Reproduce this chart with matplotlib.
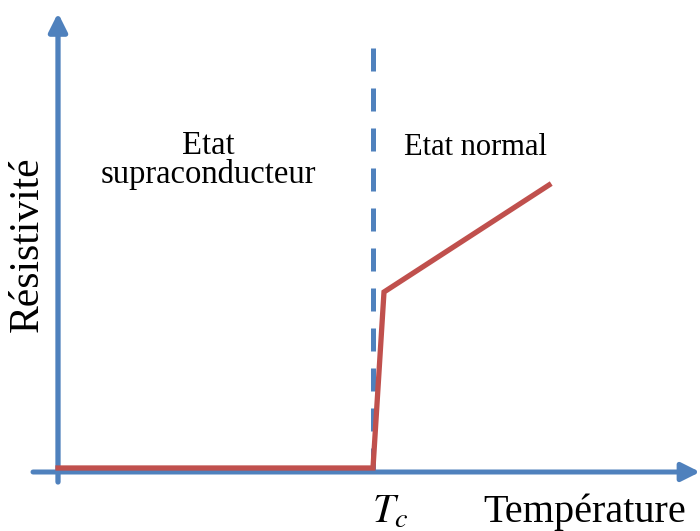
import matplotlib
matplotlib.use("Agg")
import matplotlib.pyplot as plt

# schematic data (arbitrary units, origin at axes crossing)
temp = [0, 315, 326, 491]
resist = [4, 4, 180, 287]
t_c = 315
dash_top = 424

BLUE = "#4f81bd"
RED = "#c0504d"

plt.rcParams["font.family"] = ["Liberation Serif", "DejaVu Serif"]

fig = plt.figure(figsize=(7.0, 5.31), dpi=100)
ax = fig.add_axes([0, 0, 1, 1])
ax.set_xlim(-58, 642)
ax.set_ylim(-59, 472)
ax.axis("off")

# axes with arrows
ax.annotate("", xy=(642, 0), xytext=(-25, 0), annotation_clip=False,
            arrowprops=dict(arrowstyle="-|>,head_length=1.1,head_width=0.55",
                            color=BLUE, lw=3.6, shrinkA=0, shrinkB=0))
ax.annotate("", xy=(0, 459), xytext=(0, -10), annotation_clip=False,
            arrowprops=dict(arrowstyle="-|>,head_length=1.1,head_width=0.55",
                            color=BLUE, lw=3.8, shrinkA=0, shrinkB=0))

# Tc dashed line
ax.plot([t_c, t_c], [dash_top, 0], color=BLUE, lw=3.6,
        dashes=(4.6, 3.4), solid_capstyle="butt", dash_capstyle="butt")

# resistivity curve
ax.plot(temp, resist, color=RED, lw=3.8, solid_joinstyle="miter", zorder=3)

ax.text(150, 289, "Etat\nsupraconducteur", ha="center", va="baseline",
        multialignment="center", linespacing=0.92, fontsize=23.5)
ax.text(417, 317, "Etat normal", ha="center", va="baseline", fontsize=22)
ax.text(-30, 228, "Résistivité", rotation=90, ha="center", va="center",
        fontsize=30)
ax.text(527, -50, "Température", ha="center", va="baseline", fontsize=29)
ax.text(314, -51, r"$T_c$", ha="left", va="baseline", fontsize=29,
        math_fontfamily="stix")

fig.savefig("out.png", dpi=100)
